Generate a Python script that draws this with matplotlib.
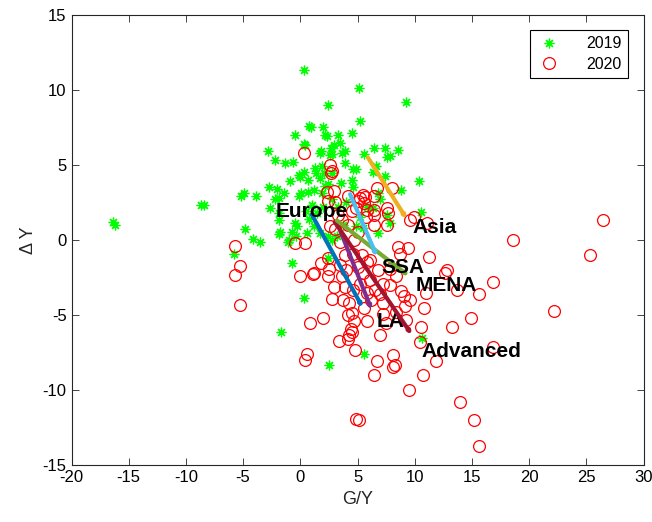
import numpy as np
import matplotlib
matplotlib.use("Agg")
import matplotlib.pyplot as plt

plt.rcParams['font.family'] = ['Liberation Sans', 'DejaVu Sans']
plt.rcParams['axes.unicode_minus'] = False

# 2019 observations (G/Y, delta Y)
x2019 = [-16.4, -16.2, -8.7, -8.45, -5.8, -5.2, -4.95, -4.8, -3.9, -4.15, -3.5, -2.8, -2.7, -2.2,
         -2.0, -2.25, -1.9, -1.9, -1.35, -1.45, -0.9, -0.7, -0.5, -0.6, -0.5, -0.25, -0.35, -1.0,
         -0.1, -0.1, 0.1, 0.3, 0.35, 0.45, 0.3, 0.35, 0.8, 0.9, 0.65, 0.8, 1.2, 1.35, 2.0, 2.15,
         1.7, 1.9, 2.1, 2.2, 1.9, 2.45, 2.65, 2.8, 2.8, 2.45, 2.8, 1.7, 2.45, 2.8, 3.25, 3.5,
         3.65, 3.9, 3.55, 4.55, 4.6, 4.9, 4.55, 5.1, 5.2, 5.6, 6.4, 6.35, 6.65, 7.4, 7.55, 7.85,
         7.4, 8.5, 9.2, 8.8, 10.4, 10.55, 6.8, 6.95, 6.8, 2.4, -1.7, 5.55, 2.55, 10.65,
         0.0, 1.3, 1.7, 0.7, -1.9, -2.65, -1.9, -0.75, -1.8, 0.55, -1.05, 6.38, 7.55, 7.85, 4.6,
         4.9, 2.3, 2.9, 1.85, 2.6, 3.9, 1.0, 1.5, 2.0, 1.2, 3.3, 3.7, 4.0, 5.2, 5.5, 5.8, 3.2, 0.5]
y2019 = [1.2, 1.0, 2.3, 2.3, -0.9, 2.9, 3.1, 0.7, 2.9, 0.1, -0.1, 5.9, 3.5, 5.3,
         3.4, 2.7, 1.3, 0.4, 5.1, 3.1, 3.9, -1.55, 7.0, 5.2, 1.1, 0.95, 0.3, 0.0,
         4.35, 2.9, 3.1, 11.3, 6.4, 6.3, 4.5, -3.85, 7.6, 7.5, 4.0, 1.4, 3.35, 4.45, 7.55, 7.0,
         5.8, 4.9, 4.45, 3.6, 3.1, 9.0, 6.1, 5.7, 4.45, 3.7, 2.7, 0.5, 0.25, 0.0, 7.0, 6.45,
         5.8, 5.1, 3.8, 7.1, 4.7, 4.7, 4.0, 10.1, 7.9, 5.75, 6.1, 4.55, 4.9, 6.1, 5.55, 5.6,
         4.25, 6.0, 9.2, 3.3, 3.9, 1.85, 3.1, 2.7, 0.45, -1.2, -6.1, -7.6, -8.35, -6.55,
         4.2, 4.77, 4.1, 3.2, 2.78, 2.1, 1.77, 0.55, 0.55, 0.45, -0.1, 2.1, 1.67, 1.1, 3.55,
         0.95, 6.9, 6.3, 5.9, 5.66, 5.9, 2.3, 1.8, 2.2, 0.9, 2.2, 1.0, 2.5, 1.5, 0.8, 2.2, 0.3, 1.9]

# 2020 observations
x2020 = [-5.7, -5.3, -5.7, -5.25, -0.45, 0.4, -0.05, 0.3, 0.85, 0.55, 0.4, 1.2, 1.95, 1.8, 2.45,
         2.55, 2.45, 2.8, 2.9, 2.6, 2.7, 2.75, 2.9, 2.45, 3.35, 4.25, 4.2, 4.45, 4.55, 4.7, 4.8,
         4.9, 5.15, 4.25, 4.55, 3.9, 4.2, 5.05, 5.45, 5.55, 5.7, 6.4, 6.45, 6.7, 8.05, 7.6, 7.7,
         7.55, 9.55, 11.1, 9.4, 8.75, 11.25, 12.65, 12.8, 13.7, 11.0, 15.65, 16.8, 18.6, 25.35,
         26.5, 22.2, 14.9, 13.3, 10.8, 9.55, 9.1, 10.55, 10.5, 11.9, 10.75, 9.5, 14.0, 15.2, 15.65,
         16.8, 8.1, 8.25, 8.1, 6.7, 6.45, 6.95, 5.85, 9.2, 8.4, 7.25, 6.1, 5.35, 4.7, 5.05, 3.45,
         2.6, 3.0, 4.2, 6.4, 7.85, 7.26, 9.15, 4.6, 5.2, 6.1, 7.26, 1.1, 4.2, 5.2, 5.65, 4.9, 5.8,
         6.4, 9.9, 4.5, 8.55, 4.6, 5.8, 2.3, 3.0, 3.9, 3.45, 3.3, 3.6, 5.0, 5.5, 6.5, 7.0, 6.2,
         5.6, 7.8, 8.4, 6.8, 4.0, 3.6, 8.8, 5.8, 7.5, 3.7]
y2020 = [-0.4, -1.7, -2.35, -4.3, -0.2, -0.2, -2.4, 5.8, -5.55, -7.6, -8.0, -2.2, -5.2, -1.55, -1.2,
         -1.95, -2.4, -3.95, -3.1, 5.0, 4.45, 4.6, 3.25, 2.6, -6.7, -6.3, -6.6, -5.95, -6.1, -5.4, -7.35,
         -11.9, -12.0, -4.2, -4.85, -3.1, 2.9, 2.6, 3.0, 2.45, 1.55, 2.0, 1.0, 3.45, 3.45, 2.1, 1.8,
         1.0, 1.35, 1.1, -0.5, -0.9, -1.1, -2.2, -2.0, -3.3, -3.5, -3.6, -2.8, 0.0, -1.0,
         1.3, -4.7, -5.2, -5.8, -4.5, -4.0, -3.7, -5.8, -6.8, -8.05, -9.0, -10.0, -10.8, -12.0, -13.7,
         -7.1, -7.65, -8.3, -8.45, -8.05, -9.0, -6.3, -5.4, -5.3, -4.8, -4.95, -1.3, -1.0, 0.0, 0.55, -0.1,
         0.9, 0.7, 1.0, 2.9, -3.0, -4.2, -4.4, -3.3, -2.9, -2.65, -2.9, -2.26, -5.0, 2.78, 2.88, 2.1, 2.0,
         1.67, 1.55, 1.9, -0.45, -0.9, -1.45, 3.2, 2.55, -1.0, -1.65, 1.67, 1.33, -1.8, -2.2, -3.3, -3.6, -4.0,
         -4.5, -1.9, -2.4, -2.0, -2.0, -2.4, -3.4, -3.5, -5.5, -4.0]

# regional averages: 2019 -> 2020
regions = ['Europe', 'LA', 'Advanced', 'MENA', 'SSA', 'Asia']
gx_start = [1.0, 3.5, 3.0, 3.2, 4.35, 5.9]
dy_start = [1.7, 0.6, 1.2, 1.3, 3.05, 5.5]
gx_end = [5.45, 6.24, 9.75, 9.5, 6.7, 9.3]
dy_end = [-4.5, -4.65, -6.3, -2.4, -1.1, 1.4]
label_x = [-2.12, 6.68, 10.6, 10.11, 7.05, 9.79]
label_y = [1.51, -5.77, -7.78, -3.39, -2.17, 0.45]
region_colors = ['#0072BD', '#7E2F8E', '#A2142F', '#77AC30', '#4DBEEE', '#EDB120']

fig = plt.figure(figsize=(6.52, 5.22), dpi=100)
ax = fig.add_axes([0.1097, 0.1084, 0.8773, 0.8636])

asterisk = (8, 2, 0)
ax.plot(x2019, y2019, linestyle='none', marker=asterisk, markersize=7,
        markeredgewidth=0.9, color=(0, 1, 0), label='2019')
ax.plot(x2020, y2020, linestyle='none', marker='o', markersize=8.5,
        markerfacecolor='none', markeredgewidth=0.9, markeredgecolor=(1, 0, 0), label='2020')

for i in range(len(regions)):
    ax.annotate('', xy=(gx_end[i], dy_end[i]), xytext=(gx_start[i], dy_start[i]),
                arrowprops=dict(arrowstyle='-|>,head_length=0.12,head_width=0.06',
                                color=region_colors[i], lw=3, shrinkA=0, shrinkB=0,
                                capstyle='round'))
    ax.text(label_x[i], label_y[i], regions[i], fontsize=15, fontweight='bold',
            ha='left', va='baseline', color='black')

ax.set_xlim(-20, 30)
ax.set_ylim(-15, 15)
ax.set_xticks(np.arange(-20, 31, 5))
ax.set_yticks(np.arange(-15, 16, 5))
dark = (0.15, 0.15, 0.15)
ax.tick_params(direction='in', top=True, right=True, length=5, width=0.6,
               colors=dark, labelsize=12, labelcolor='black')
for s in ax.spines.values():
    s.set_color(dark)
    s.set_linewidth(0.8)

ax.set_xlabel('G/Y', fontsize=13, color=dark)
ax.set_ylabel('Δ Y', fontsize=13, color=dark)

leg = ax.legend(loc='upper right', bbox_to_anchor=(0.9726, 0.966), borderaxespad=0,
                fancybox=False, edgecolor='black', framealpha=1, fontsize=11.5,
                handletextpad=1.6, handlelength=1.5, borderpad=0.4, labelspacing=0.35)
leg.get_frame().set_linewidth(0.8)

fig.savefig('out.png', dpi=100)
